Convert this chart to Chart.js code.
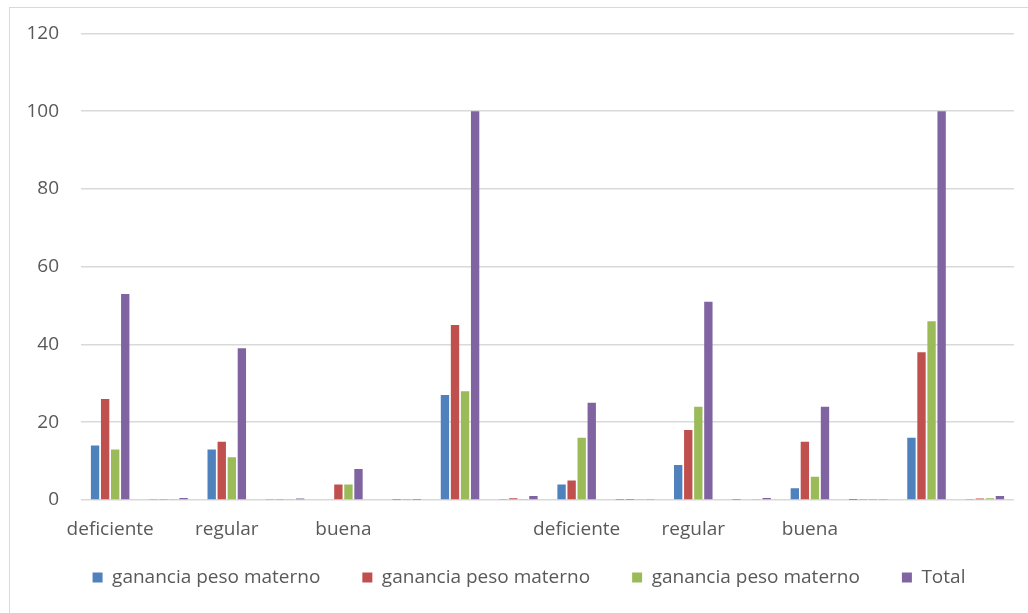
<!DOCTYPE html>
<html>
<head>
<meta charset="utf-8">
<script src="https://cdn.jsdelivr.net/npm/chart.js@4/dist/chart.umd.min.js"></script>
<style>
  html, body { margin: 0; padding: 0; background: #ffffff; overflow: hidden; }
  #frame {
    position: absolute; left: 9px; top: 7px;
    width: 1040px; height: 640px;
    border: 1.5px solid #d9d9d9;
    box-sizing: border-box;
  }
  #wrap { position: absolute; left: 0; top: 0; width: 1028px; height: 613px; }
</style>
</head>
<body>
<div id="frame"></div>
<div id="wrap"><canvas id="chart" width="1028" height="613"></canvas></div>
<script>
// Categories (every other label is blank on the axis)
const categories = [
  'deficiente', '', 'regular', '', 'buena', '', '', '',
  'deficiente', '', 'regular', '', 'buena', '', '', ''
];

// Series values
const ganancia1 = [14, 0.14, 13, 0.13, 0, 0, 27, 0.27, 4, 0.04, 9, 0.09, 3, 0.03, 16, 0.16];
const ganancia2 = [26, 0.26, 15, 0.15, 4, 0.04, 45, 0.45, 5, 0.05, 18, 0.18, 15, 0.15, 38, 0.38];
const ganancia3 = [13, 0.13, 11, 0.11, 4, 0.04, 28, 0.28, 16, 0.16, 24, 0.24, 6, 0.06, 46, 0.46];
const total     = [53, 0.53, 39, 0.39, 8, 0.08, 100, 1, 25, 0.25, 51, 0.51, 24, 0.24, 100, 1];

// Series names
const seriesNames = ['ganancia peso materno', 'ganancia peso materno', 'ganancia peso materno', 'Total'];

// Y axis ticks
const yTicks = [0, 20, 40, 60, 80, 100, 120];

const colors = ['#4F81BD', '#C0504D', '#9BBB59', '#8064A2'];
const textColor = '#595959';
const fontFamily = '"Open Sans", "Liberation Sans", sans-serif';

const seriesData = [ganancia1, ganancia2, ganancia3, total];

// Compact axis boxes; labels are allowed to draw outside the box
const noLabelClip = (s) => { s._computeLabelArea = () => undefined; };

new Chart(document.getElementById('chart'), {
  type: 'bar',
  data: {
    labels: categories,
    datasets: seriesData.map((d, i) => ({
      label: seriesNames[i],
      data: d,
      backgroundColor: colors[i],
      borderWidth: 0,
      categoryPercentage: 0.69,
      barPercentage: 0.83
    }))
  },
  options: {
    responsive: false,
    animation: false,
    devicePixelRatio: 1,
    layout: { padding: { left: 44, right: 14, top: 26, bottom: 16 } },
    plugins: {
      tooltip: { enabled: false },
      legend: {
        position: 'bottom',
        labels: {
          color: textColor,
          font: { family: fontFamily, size: 19 },
          boxWidth: 10,
          boxHeight: 10,
          padding: 42
        }
      }
    },
    scales: {
      x: {
        grid: { display: false },
        border: { display: false },
        ticks: {
          color: textColor,
          font: { family: fontFamily, size: 19 },
          autoSkip: false,
          maxRotation: 0,
          padding: 10
        },
        afterFit: (s) => { s.paddingLeft = 0; s.paddingRight = 0; s.height = 26; noLabelClip(s); }
      },
      y: {
        min: yTicks[0],
        max: yTicks[yTicks.length - 1],
        afterBuildTicks: (scale) => { scale.ticks = yTicks.map(v => ({ value: v })); },
        grid: { color: '#d9d9d9', lineWidth: 1.5, drawTicks: false },
        border: { display: false },
        ticks: {
          color: textColor,
          font: { family: fontFamily, size: 19 },
          padding: 22
        },
        afterFit: (s) => { s.width = 37; noLabelClip(s); }
      }
    }
  }
});
</script>
</body>
</html>
